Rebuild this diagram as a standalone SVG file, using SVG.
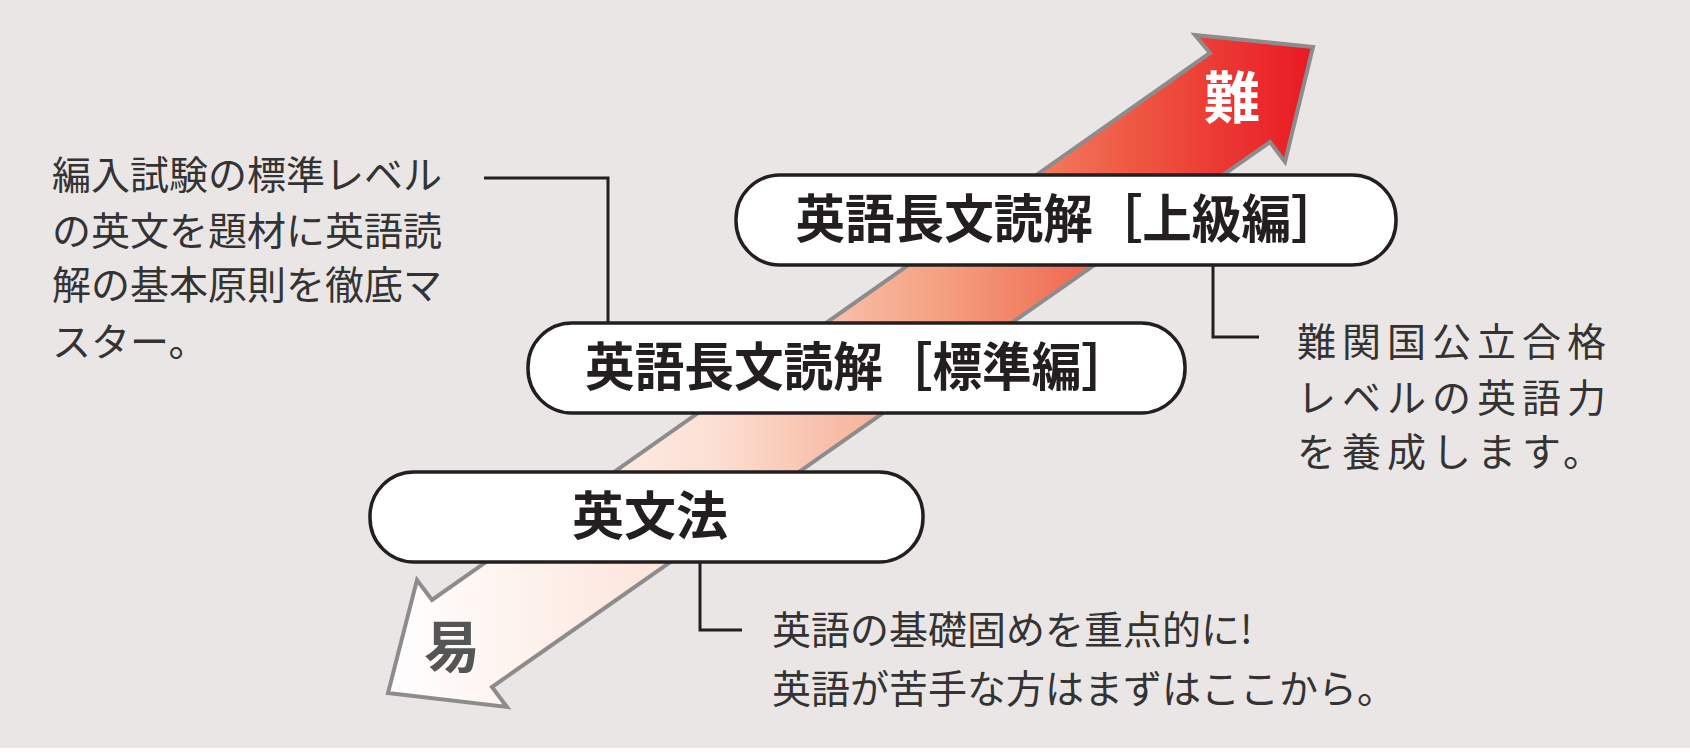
<svg xmlns="http://www.w3.org/2000/svg" width="1690" height="756" viewBox="0 0 1690 756">
<defs>
<linearGradient id="g" gradientUnits="userSpaceOnUse" x1="390" y1="0" x2="1310" y2="0">
<stop offset="0" stop-color="#ffffff"/><stop offset="0.35" stop-color="#fce0d4"/><stop offset="0.6" stop-color="#f4a080"/><stop offset="0.8" stop-color="#ef5a44"/><stop offset="1" stop-color="#e81a24"/>
</linearGradient>
<style>
.box{fill:#fff;stroke:#231f20;stroke-width:3.5}
.bt{font-family:"Noto Sans CJK JP",sans-serif;font-weight:bold;font-size:52px;fill:#231f20;text-anchor:middle}
.t{font-family:"Noto Sans CJK JP",sans-serif;font-size:39px;fill:#333}
.ln{fill:none;stroke:#231f20;stroke-width:3}
</style>
</defs>
<rect width="1690" height="756" fill="#e9e6e5"/>
<rect y="748" width="1690" height="8" fill="#fff"/>
<g id="arrow">
<path d="M1210,53 L1195,35 L1313,47 L1285,162 L1270,142 L492,687 L507,707 L388,693 L417,580 L432,600 Z" fill="url(#g)" stroke="#8c8c8c" stroke-width="4" stroke-linejoin="miter"/>
<text x="1232" y="118" font-family="Noto Sans CJK JP,sans-serif" font-weight="bold" font-size="56" fill="#fff" text-anchor="middle">難</text>
<text x="452" y="667" font-family="Noto Sans CJK JP,sans-serif" font-weight="bold" font-size="56" fill="#555" text-anchor="middle">易</text>
</g>
<g id="connectors">
<polyline class="ln" points="484,178 608,178 608,323"/>
<polyline class="ln" points="1213,265 1213,337 1259,337"/>
<polyline class="ln" points="700,562 700,630 742,630"/>
</g>
<g id="box-advanced">
<rect class="box" x="736" y="175" width="660" height="90" rx="44"/>
<text class="bt" x="1068" y="238" textLength="545" lengthAdjust="spacingAndGlyphs">英語長文読解［上級編］</text>
</g>
<g id="box-standard">
<rect class="box" x="528" y="323" width="657" height="90" rx="44"/>
<text class="bt" x="858" y="386" textLength="546" lengthAdjust="spacingAndGlyphs">英語長文読解［標準編］</text>
</g>
<g id="box-grammar">
<rect class="box" x="370" y="472" width="553" height="90" rx="44"/>
<text class="bt" x="650" y="535">英文法</text>
</g>
<g id="note-left">
<text class="t" x="52" y="189">編入試験の標準レベル</text>
<text class="t" x="52" y="245">の英文を題材に英語読</text>
<text class="t" x="52" y="299">解の基本原則を徹底マ</text>
<text class="t" x="52" y="356">スター。</text>
</g>
<g id="note-right">
<text class="t" x="1297" y="356" letter-spacing="6">難関国公立合格</text>
<text class="t" x="1297" y="412" letter-spacing="6">レベルの英語力</text>
<text class="t" x="1297" y="466" letter-spacing="6">を養成します。</text>
</g>
<g id="note-bottom">
<text class="t" x="772" y="644">英語の基礎固めを重点的に!</text>
<text class="t" x="772" y="703">英語が苦手な方はまずはここから。</text>
</g>
</svg>
